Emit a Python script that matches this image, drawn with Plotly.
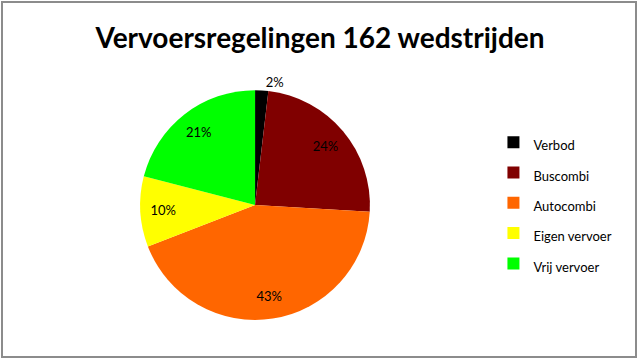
import plotly.graph_objects as go

categories = ["Verbod", "Buscombi", "Autocombi", "Eigen vervoer", "Vrij vervoer"]
counts = [3, 39, 70, 16, 34]
colors = ["#000000", "#800000", "#FF6600", "#FFFF00", "#00FF00"]
title_text = "Vervoersregelingen 162 wedstrijden"

FONT = "Lato, Carlito, 'Noto Sans', sans-serif"
DOMAIN = dict(x=[0.219, 0.578], y=[0.111, 0.75])

legend_labels = ['<span style="font-size:13px">%s</span>' % c for c in categories]

# Colored pie (legend + slices)
pie_main = go.Pie(
    labels=legend_labels,
    values=counts,
    marker=dict(colors=colors, line=dict(width=0)),
    sort=False,
    direction="clockwise",
    rotation=0,
    textinfo="none",
    domain=DOMAIN,
    hoverinfo="label+percent",
)

# Transparent ring on top, used only to place the percentage labels
pie_text = go.Pie(
    labels=legend_labels,
    values=counts,
    marker=dict(colors=["rgba(0,0,0,0)"] * len(counts), line=dict(width=0)),
    sort=False,
    direction="clockwise",
    rotation=0,
    hole=0.6,
    texttemplate="%{percent:.0%}",
    textposition=["outside", "inside", "inside", "inside", "inside"],
    insidetextorientation="horizontal",
    textfont=dict(family=FONT, size=13, color="#000000"),
    outsidetextfont=dict(family=FONT, size=13, color="#000000"),
    domain=DOMAIN,
    showlegend=False,
    hoverinfo="skip",
)

fig = go.Figure([pie_main, pie_text])

fig.update_layout(
    width=640, height=360,
    margin=dict(l=0, r=0, t=0, b=0),
    paper_bgcolor="#FFFFFF",
    plot_bgcolor="#FFFFFF",
    title=dict(text="<b>%s</b>" % title_text, x=0.5, xanchor="center",
               y=0.895, yanchor="middle",
               font=dict(family=FONT, size=28, color="#000000")),
    legend=dict(x=0.771, xanchor="left", y=0.436, yanchor="middle",
                font=dict(family=FONT, size=21, color="#000000"),
                bgcolor="rgba(0,0,0,0)", itemwidth=30, traceorder="normal"),
    shapes=[dict(type="rect", xref="paper", yref="paper",
                 x0=2 / 640, x1=636 / 640, y0=1 - 357 / 360, y1=1 - 2 / 360,
                 line=dict(color="#8C8C8C", width=2),
                 fillcolor="rgba(0,0,0,0)", layer="below")],
)

fig.write_html("out.html", config={"displayModeBar": False},
               post_script="document.body.style.margin='0';")
